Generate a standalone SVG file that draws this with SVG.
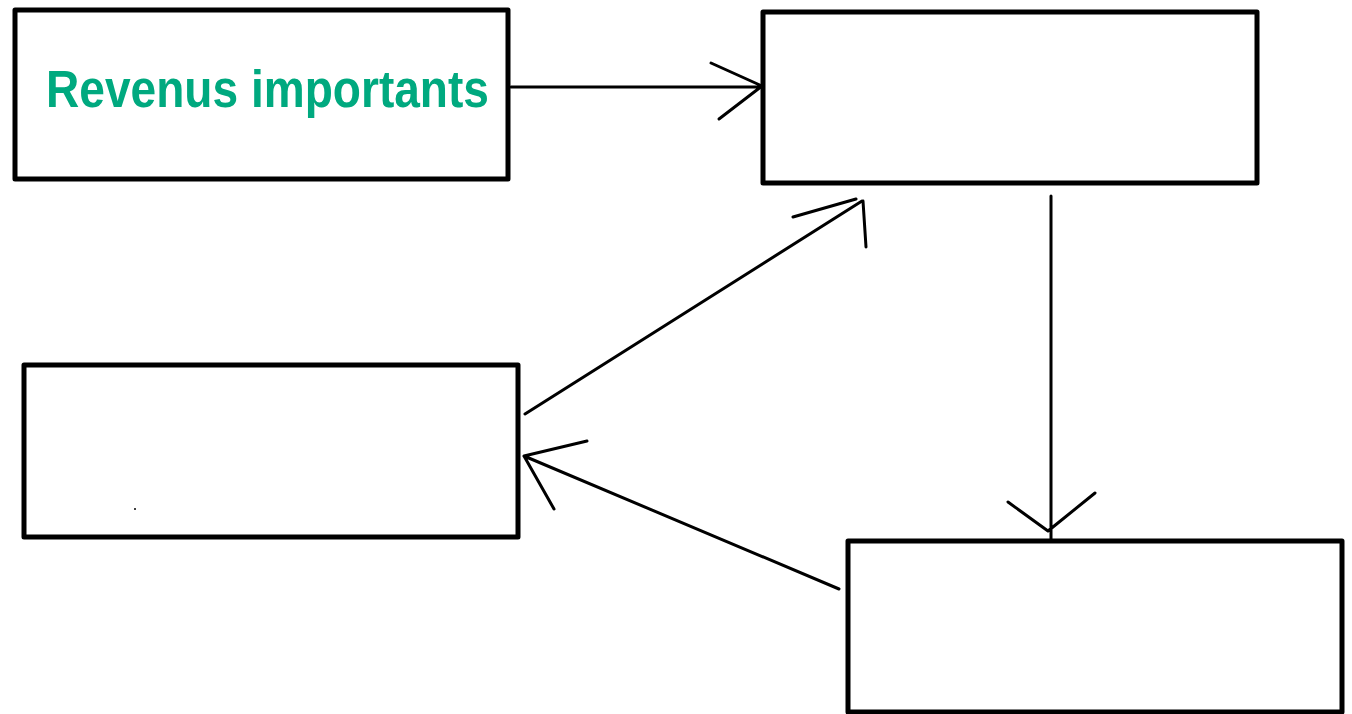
<svg xmlns="http://www.w3.org/2000/svg" width="1352" height="714" viewBox="0 0 1352 714">
<style>
.box{fill:#fff;stroke:#000;stroke-width:5;stroke-linejoin:round}
.con{fill:none;stroke:#000;stroke-width:3;stroke-linecap:round;stroke-linejoin:round}
.lbl{font-family:"Liberation Sans",Arial,sans-serif;font-weight:bold;font-size:51px;fill:#00A97F}
</style>
<rect width="1352" height="714" fill="#fff"/>
<g id="node-revenus">
<rect class="box" x="15" y="10" width="493" height="169"/>
<text class="lbl" x="46" y="107" textLength="443" lengthAdjust="spacingAndGlyphs">Revenus importants</text>
</g>
<g id="node-top-right">
<rect class="box" x="763" y="12" width="494" height="171"/>
</g>
<g id="node-left">
<rect class="box" x="24" y="365" width="494" height="172"/>
<circle cx="135" cy="509" r="1" fill="#000"/>
</g>
<g id="node-bottom-right">
<rect class="box" x="848" y="541" width="494" height="171"/>
</g>
<g id="connectors">
<path class="con" d="M511,87 L762,87 M711,63 L762,86 L719,119"/>
<path class="con" d="M525,414 L862,201 M793,217 L856,199 M863,201 L866,247"/>
<path class="con" d="M1051,196 L1051,541 M1008,502 L1048,531 L1095,493"/>
<path class="con" d="M839,589 L524,456 M587,441 L524,456 L554,509"/>
</g>
</svg>
